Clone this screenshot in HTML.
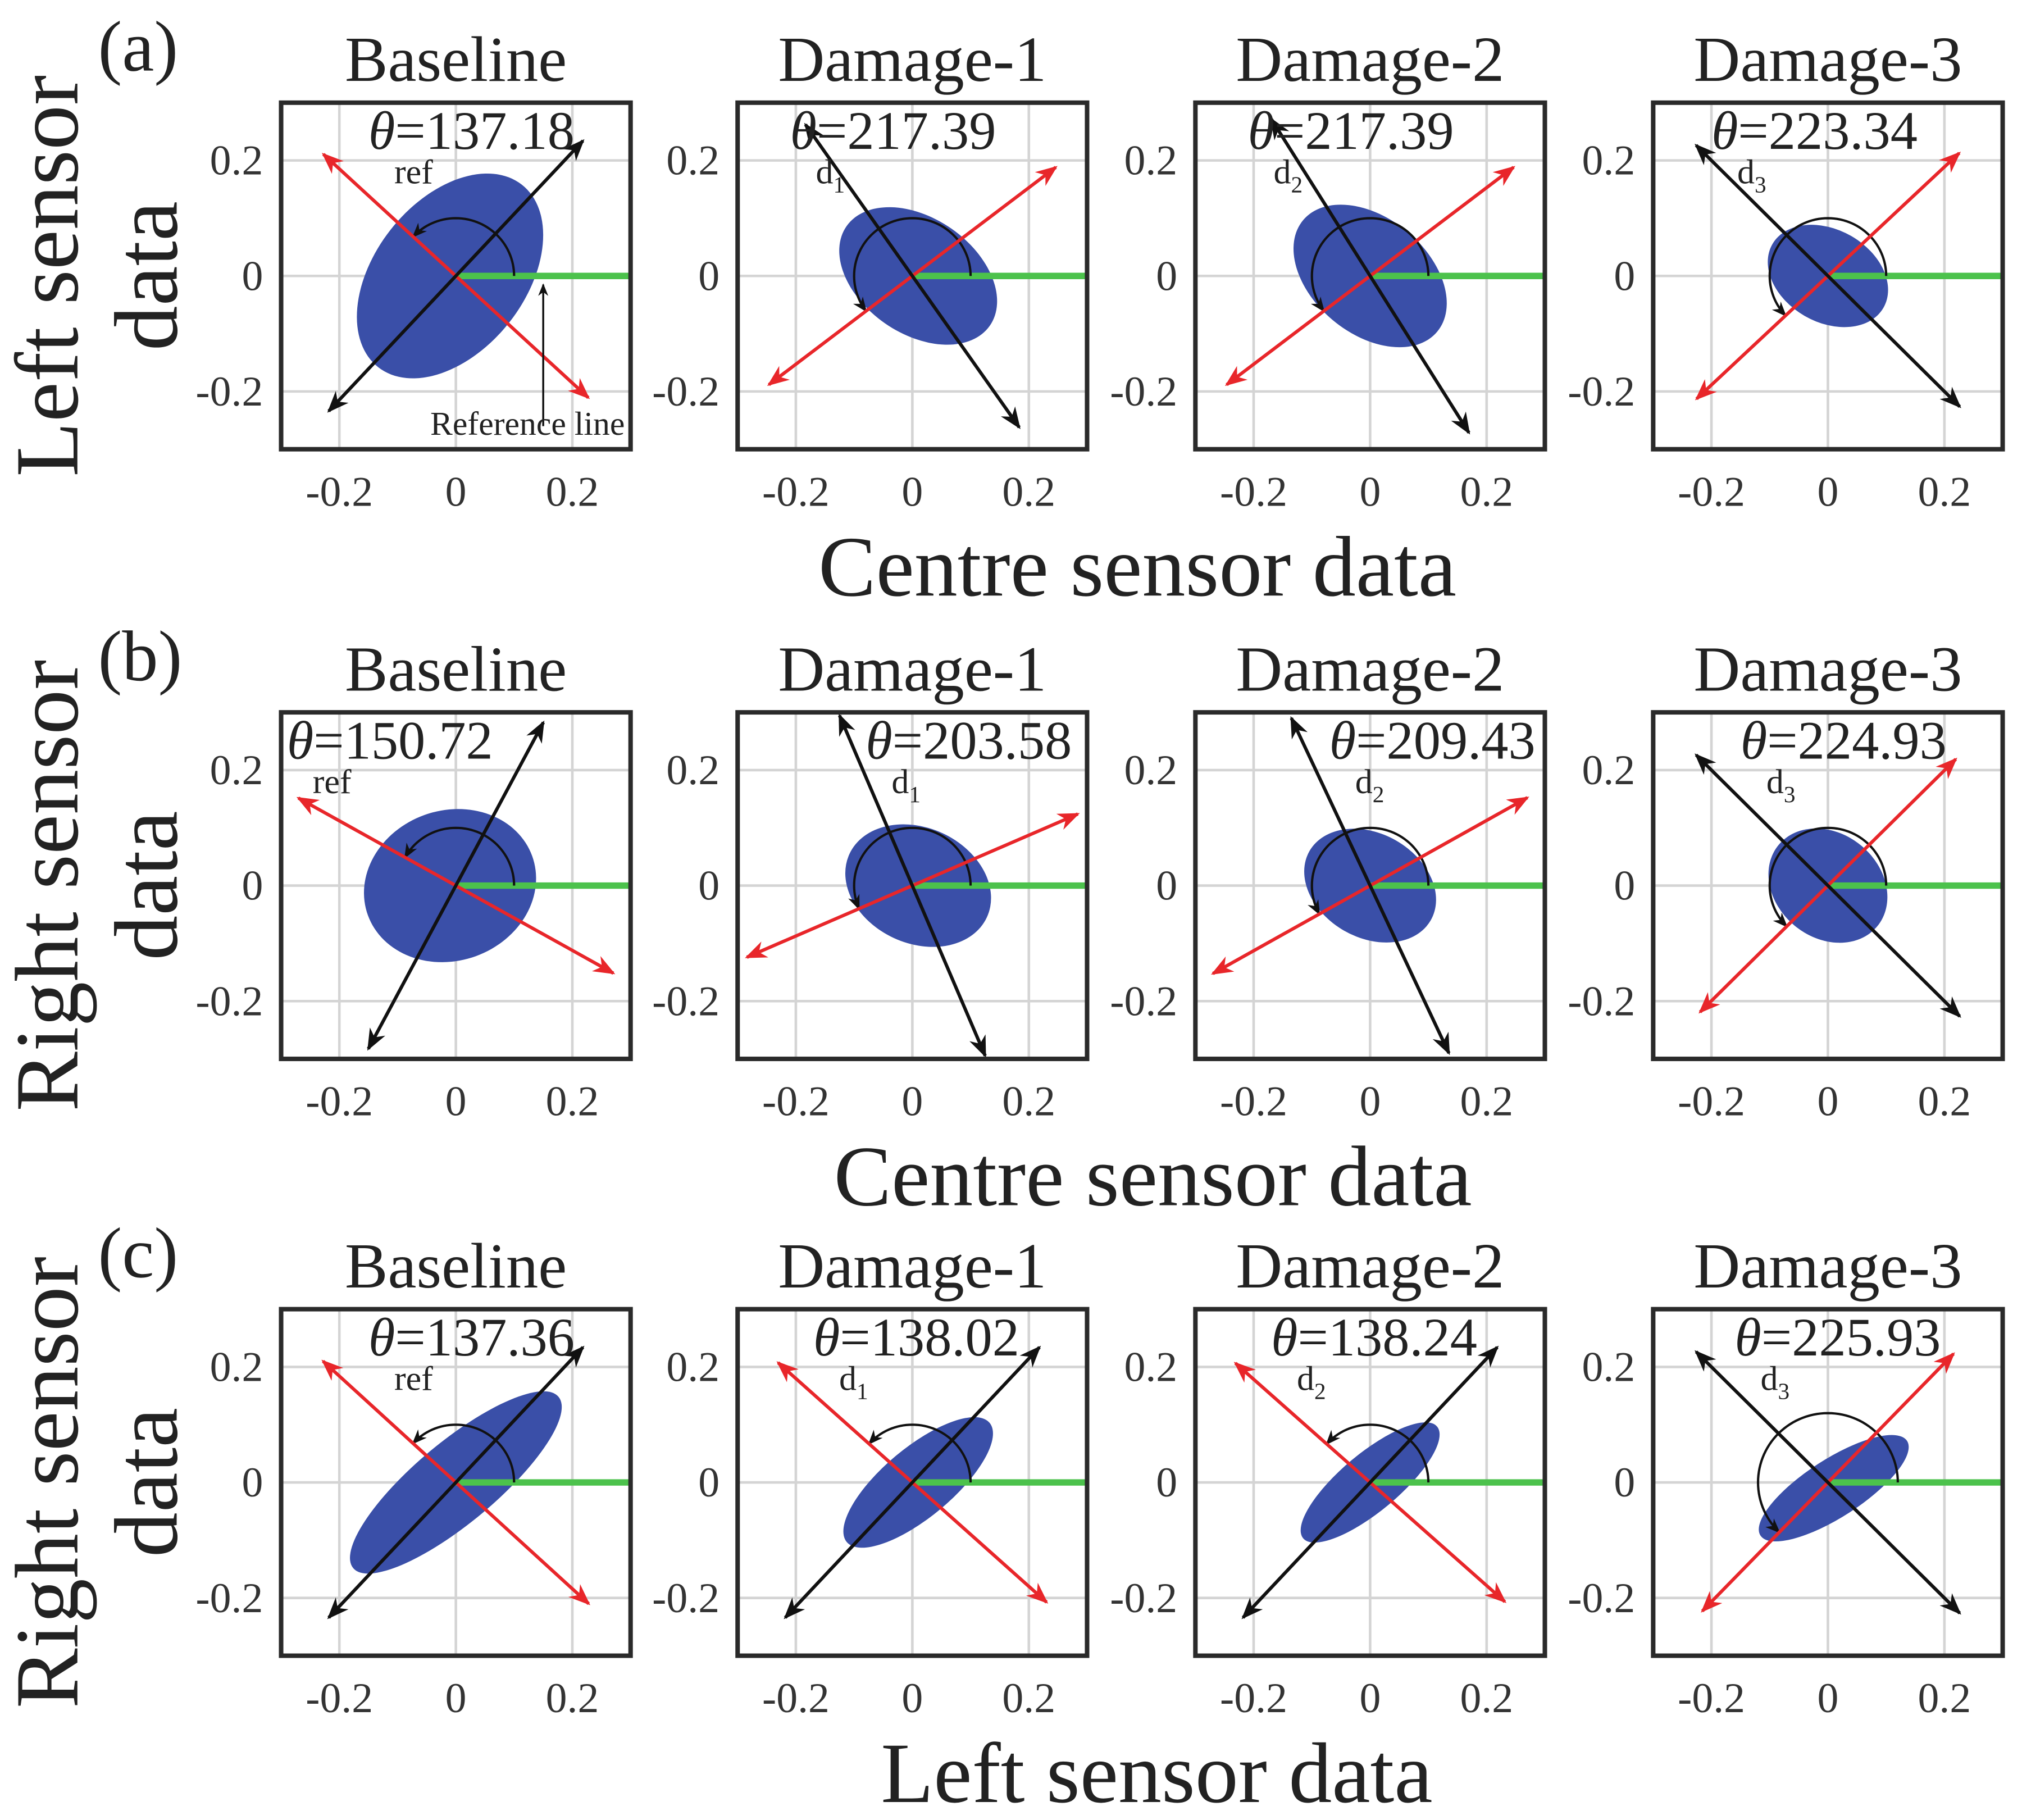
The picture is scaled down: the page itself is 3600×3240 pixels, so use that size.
<!DOCTYPE html>
<html><head><meta charset="utf-8"><style>
html,body{margin:0;padding:0;background:#fff;}
svg{display:block;font-family:"Liberation Serif",serif;}
</style></head><body>
<svg id="fig" width="3600" height="3240" viewBox="0 0 1568 1418" preserveAspectRatio="none" xmlns="http://www.w3.org/2000/svg"></svg>
<script>
// ---- data ----
const rowLetters = ["(a)", "(b)", "(c)"];
const panelTitles = ["Baseline", "Damage-1", "Damage-2", "Damage-3"];
const yLabel1 = ["Left sensor", "Right sensor", "Right sensor"];
const xLabels = ["Centre sensor data", "Centre sensor data", "Left sensor data"];
const tickValues = [-0.2, 0, 0.2];
const tickLabels = ["-0.2", "0", "0.2"];
const thetaValues = [
  [137.18, 217.39, 217.39, 223.34],
  [150.72, 203.58, 209.43, 224.93],
  [137.36, 138.02, 138.24, 225.93]];
const thetaSubs = ["ref", "d1", "d2", "d3"];
const labelX = [
  [-0.15, -0.21, -0.21, -0.20],
  [-0.29, -0.08, -0.07, -0.15],
  [-0.15, -0.17, -0.17, -0.16]];
const blackDir = [
  [47, 125, 122, 135],
  [62, 113, 115, 135],
  [47, 47, 47, 135]];
const blobCx = [[-0.01,0.01,0.0,0.0],[-0.01,0.01,0.0,0.0],[0.0,0.01,0.0,0.01]];
const blobCy = [[0.0,0.0,0.0,0.0],[0.0,0.0,0.0,0.0],[0.0,0.0,0.0,-0.01]];
const blobMajor = [[0.20,0.15,0.15,0.11],[0.15,0.13,0.12,0.11],[0.23,0.16,0.15,0.15]];
const blobMinor = [[0.13,0.10,0.10,0.08],[0.13,0.10,0.09,0.09],[0.07,0.06,0.05,0.05]];
const blobAngle = [[52,-35,-40,-30],[20,-25,-30,-40],[40,40,40,33]];
// ---- layout ----
const colLeft = [218, 572, 927, 1282];
const rowTop = [80, 555, 1020];
const boxW = 271, boxH = 270;
const NS = "http://www.w3.org/2000/svg";
const svg = document.getElementById("fig");
function sx(c, v){ return colLeft[c] + (v + 0.3) / 0.6 * boxW; }
function sy(r, v){ return rowTop[r] + (0.3 - v) / 0.6 * boxH; }
function mk(tag, attrs, parent){ const e = document.createElementNS(NS, tag); for (const k in attrs) e.setAttribute(k, attrs[k]); (parent||svg).appendChild(e); return e; }
function txt(s, attrs, parent){ const e = mk("text", attrs, parent); e.textContent = s; return e; }
const defs = mk("defs", {});
[["ab","#111"],["ar","#e8262a"]].forEach(([id,col])=>{
  const m = mk("marker",{id:id,viewBox:"0 0 10 10",refX:"9",refY:"5",markerWidth:"6.5",markerHeight:"6.5",orient:"auto-start-reverse",markerUnits:"strokeWidth"},defs);
  mk("path",{d:"M0,1 L10,5 L0,9 L3,5 Z",fill:col},m);
});
for (let r = 0; r < 3; r++) {
  const lt = txt(rowLetters[r], {x:76, y:rowTop[r]-25, "font-size":56, fill:"#222"});
  
  
  const cy = rowTop[r] + boxH/2;
  const yl = txt(yLabel1[r], {x:0,y:0,"font-size":70,fill:"#222","text-anchor":"middle",transform:`translate(60,${cy}) rotate(-90)`});
  
  
  const yl2 = txt("data", {x:0,y:0,"font-size":70,fill:"#222","text-anchor":"middle",transform:`translate(137,${cy}) rotate(-90)`});
  
  
  const xl = txt(xLabels[r], {x:r==2?897:r==1?894:882, y:rowTop[r]+boxH+114, "font-size":67, fill:"#222","text-anchor":"middle"});
  
  
  for (let c = 0; c < 4; c++) {
    const g = mk("g", {});
    
    
    const t = txt(panelTitles[c], {x:colLeft[c]+boxW/2, y:rowTop[r]-17, "font-size":50, fill:"#222","text-anchor":"middle"}, g);
    
    
    mk("rect",{x:colLeft[c],y:rowTop[r],width:boxW,height:boxH,fill:"#fff"},g);
    tickValues.forEach((v,i)=>{
      mk("line",{x1:sx(c,v),x2:sx(c,v),y1:rowTop[r],y2:rowTop[r]+boxH,stroke:"#d4d4d4","stroke-width":2},g);
      mk("line",{y1:sy(r,v),y2:sy(r,v),x1:colLeft[c],x2:colLeft[c]+boxW,stroke:"#d4d4d4","stroke-width":2},g);
      const tx = txt(tickLabels[i],{x:sx(c,v),y:rowTop[r]+boxH+44,"font-size":33,fill:"#333","text-anchor":"middle"},g);
      
      
      const ty = txt(tickLabels[i],{x:colLeft[c]-14,y:sy(r,v)+11,"font-size":33,fill:"#333","text-anchor":"end"},g);
      
      
    });
    const bx = sx(c, blobCx[r][c]), by = sy(r, blobCy[r][c]);
    const bl = mk("ellipse",{cx:bx,cy:by,rx:blobMajor[r][c]/0.6*boxW,ry:blobMinor[r][c]/0.6*boxH,fill:"#3a4fa8",transform:`rotate(${-blobAngle[r][c]} ${bx} ${by})`},g);
    
    
    const gl = mk("line",{x1:sx(c,0),y1:sy(r,0),x2:colLeft[c]+boxW,y2:sy(r,0),stroke:"#4cc24c","stroke-width":5},g);
    
    
    const th = thetaValues[r][c], R = (r==2&&c==3)?0.12:0.1;
    let d = `M${sx(c,R)},${sy(r,0)}`;
    for (let a = 0; a <= th; a += 3) { const ra = a*Math.PI/180; d += ` L${sx(c,R*Math.cos(ra))},${sy(r,R*Math.sin(ra))}`; }
    const tr = th*Math.PI/180;
    d += ` L${sx(c,R*Math.cos(tr))},${sy(r,R*Math.sin(tr))}`;
    const arc = mk("path",{d:d,fill:"none",stroke:"#111","stroke-width":1.8,"marker-end":"url(#ab)"},g);
    
    
    const Lr = 0.31, Lb = 0.32;
    const rl = mk("line",{x1:sx(c,-Lr*Math.cos(tr)),y1:sy(r,-Lr*Math.sin(tr)),x2:sx(c,Lr*Math.cos(tr)),y2:sy(r,Lr*Math.sin(tr)),stroke:"#e8262a","stroke-width":2.6,"marker-start":"url(#ar)","marker-end":"url(#ar)"},g);
    
    
    const bd = blackDir[r][c]*Math.PI/180;
    const bk = mk("line",{x1:sx(c,-Lb*Math.cos(bd)),y1:sy(r,-Lb*Math.sin(bd)),x2:sx(c,Lb*Math.cos(bd)),y2:sy(r,Lb*Math.sin(bd)),stroke:"#111","stroke-width":2.6,"marker-start":"url(#ab)","marker-end":"url(#ab)"},g);
    
    
    mk("rect",{x:colLeft[c],y:rowTop[r],width:boxW,height:boxH,fill:"none",stroke:"#2a2a2a","stroke-width":3.5},g);
    const lx = sx(c, labelX[r][c]), ly = sy(r, 0.22);
    const tl = txt("", {x:lx,y:ly,"font-size":42,fill:"#222"}, g);
    
    
    const ts1 = mk("tspan",{"font-style":"italic"},tl); ts1.textContent = "θ";
    const ts2 = mk("tspan",{},tl); ts2.textContent = "=" + th.toFixed(2);
    const st = txt("", {x:lx+20,y:ly+27,"font-size":27,fill:"#222"}, g);
    
    
    if (c==0) { st.textContent = "ref"; }
    else { const a1 = mk("tspan",{},st); a1.textContent = "d"; const a2 = mk("tspan",{dy:7,"font-size":18},st); a2.textContent = String(c); }
    if (r==0 && c==0) {
      const an = mk("line",{x1:sx(c,0.15),y1:sy(r,-0.26),x2:sx(c,0.15),y2:sy(r,-0.015),stroke:"#111","stroke-width":1.5,"marker-end":"url(#ab)"},g);
      
      
      const at = txt("Reference line",{x:sx(c,0.29),y:sy(r,-0.275),"font-size":26,fill:"#222","text-anchor":"end"},g);
      
      
    }
  }
}
</script>
</body></html>
